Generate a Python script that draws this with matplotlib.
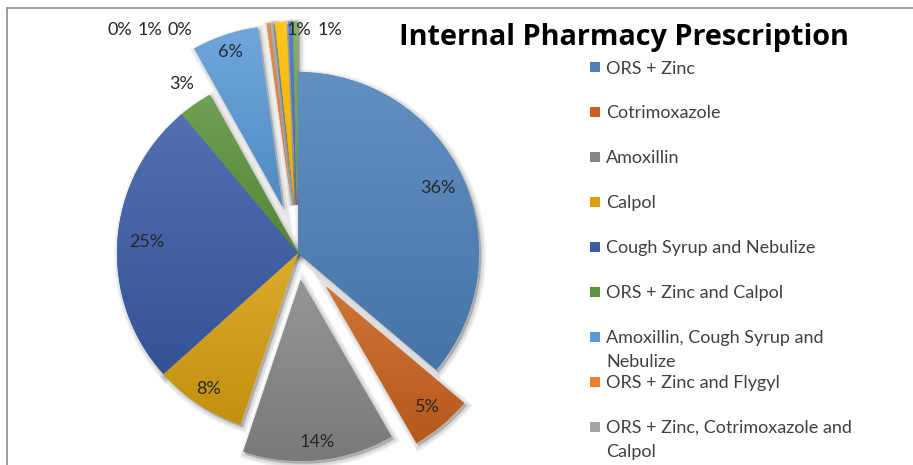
import numpy as np
import matplotlib
matplotlib.use("Agg")
import matplotlib.pyplot as plt
from matplotlib.patches import Wedge, Rectangle
from matplotlib.lines import Line2D
from matplotlib.colors import LinearSegmentedColormap, to_rgb

plt.rcParams['font.family'] = ['Lato', 'DejaVu Sans']

# slice values (percent), clockwise from 12 o'clock
values = [36.2, 5.5, 13.5, 8.2, 25.6, 3.0, 5.9, 0.25, 0.25, 1.0, 0.35, 0.35]
pct_labels = ["36%", "5%", "14%", "8%", "25%", "3%", "6%", "0%", "1%", "0%", "1%", "1%"]
explode = [0, 0.24, 0.15, 0, 0, 0, 0.27, 0.28, 0.28, 0.28, 0.28, 0.28]
colors = ['#4D81BA', '#C9621E', '#878787', '#D8A010', '#3A5CA8', '#5E933D',
          '#5A9AD8', '#ED7D31', '#A5A5A5', '#FFC000', '#4472C4', '#70AD47']
legend_names = ["ORS + Zinc", "Cotrimoxazole", "Amoxillin", "Calpol",
                "Cough Syrup and Nebulize", "ORS + Zinc and Calpol",
                "Amoxillin, Cough Syrup and\nNebulize", "ORS + Zinc and Flygyl",
                "ORS + Zinc, Cotrimoxazole and\nCalpol"]
title = "Internal Pharmacy Prescription"

W, H = 913, 465
fig = plt.figure(figsize=(W / 100, H / 100), dpi=100)

# pie axes: centre at (298, 253) px from top-left, radius 181 px
r_px, cx, cy, aw = 181, 298, 253, 596
ax = fig.add_axes([0, 0, aw / W, 1])

wedges, _ = ax.pie(values, colors=colors, startangle=90, counterclock=False,
                   explode=explode, radius=1, wedgeprops=dict(linewidth=0))


def shade(c, f):
    r, g, b = to_rgb(c)
    if f > 0:
        return (r + (1 - r) * f, g + (1 - g) * f, b + (1 - b) * f)
    return (r * (1 + f), g * (1 + f), b * (1 + f))


grad = np.linspace(0, 1, 256).reshape(-1, 1)
for w, c in zip(wedges, colors):
    # soft shadow
    for k in range(4):
        sh = Wedge((w.center[0] + 0.012, w.center[1] - 0.014), w.r, w.theta1, w.theta2,
                   facecolor='black', edgecolor='black', alpha=0.05,
                   linewidth=1 + 2 * k, zorder=0.5)
        ax.add_patch(sh)
    w.set_zorder(1)
    bb = w.get_path().get_extents()
    cmap = LinearSegmentedColormap.from_list('g', [shade(c, -0.1), shade(c, 0.12)])
    im = ax.imshow(grad, cmap=cmap, origin='lower', aspect='auto', zorder=1.1,
                   extent=(bb.x0, bb.x1, bb.y0, bb.y1), interpolation='bilinear')
    im.set_clip_path(w)

# data labels for the larger slices
label_r = [0.85, 0.87, 0.9, 0.9, 0.84, 1.13, 0.9]
for i, lr in enumerate(label_r):
    w = wedges[i]
    ang = np.deg2rad((w.theta1 + w.theta2) / 2)
    ax.text(w.center[0] + lr * np.cos(ang), w.center[1] + lr * np.sin(ang),
            pct_labels[i], ha='center', va='center', fontsize=13, color='#262626',
            zorder=3)

ax.set_xlim(-cx / r_px, (aw - cx) / r_px)
ax.set_ylim(-(H - cy) / r_px, cy / r_px)
ax.axis('off')

# labels of the thin slices at the top (left and right clusters)
small_x = [107, 138, 168, 287, 318]
for lab, x in zip(pct_labels[7:], small_x):
    fig.text(x / W, 1 - 30 / H, lab, ha='left', va='center', fontsize=13,
             color='#262626', zorder=5)

# title
fig.text(624 / W, 1 - 45 / H, title, ha='center', va='baseline', fontsize=20.8,
         fontweight='bold', color='black', family=['Open Sans', 'DejaVu Sans'])

# legend (wrapped names continue 24 px lower)
for i, name in enumerate(legend_names):
    yc = 67.5 + i * 44.9
    fig.add_artist(Rectangle((590 / W, 1 - (yc + 5) / H), 10 / W, 10 / H,
                             transform=fig.transFigure, facecolor=colors[i],
                             edgecolor='none'))
    for j, line in enumerate(name.split('\n')):
        fig.text(606 / W, 1 - (yc + 6 + 24 * j) / H, line, ha='left', va='baseline',
                 fontsize=13, color='#404040')

# chart frame (top and left edges visible)
fig.add_artist(Line2D([7 / W, 1], [1 - 8 / H, 1 - 8 / H], color='#8C8C8C', lw=1.2))
fig.add_artist(Line2D([7 / W, 7 / W], [0, 1 - 8 / H], color='#8C8C8C', lw=1.2))

fig.savefig('out.png', dpi=100)
